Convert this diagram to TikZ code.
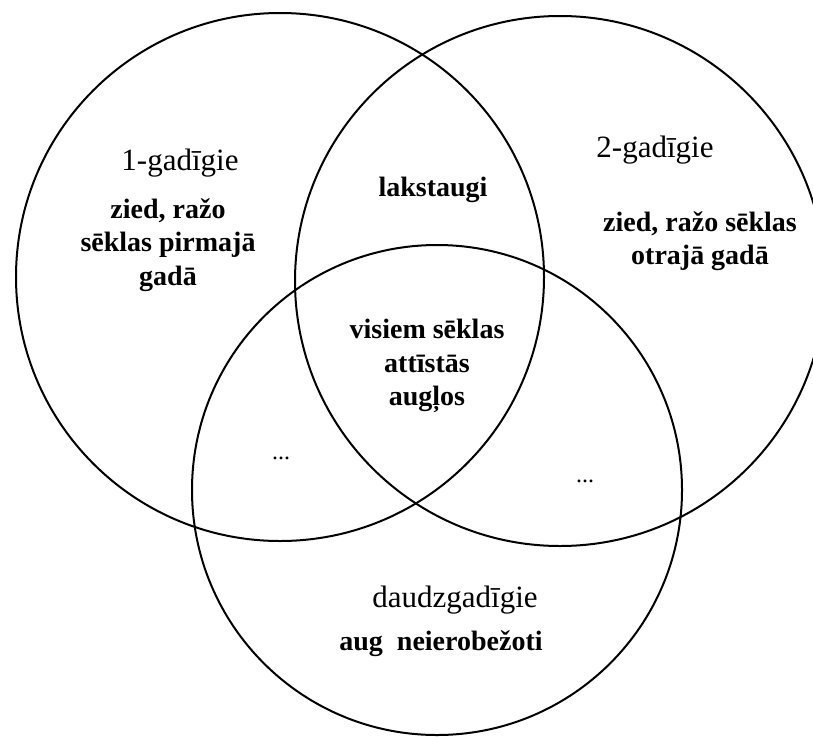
\documentclass[tikz,border=0pt]{standalone}
\usepackage{fontspec}
\setmainfont{Liberation Serif}
\begin{document}
\begin{tikzpicture}[x=1pt,y=-1pt,
  ring/.style={draw=black,line width=2pt,circle,minimum size=#1,inner sep=0pt},
  head/.style={font=\fontsize{31}{35}\selectfont,inner sep=0pt},
  body/.style={font=\bfseries\fontsize{28}{33.5}\selectfont,align=center,inner sep=0pt},
  dots/.style={font=\fontsize{24}{28}\selectfont,inner sep=0pt}]
\useasboundingbox (0,0) rectangle (813,736);
\begin{scope}
\clip (0,0) rectangle (813,736);
\node[ring=528pt] (c1) at (280,277) {};
\node[ring=530pt] (c2) at (560,281) {};
\node[ring=490pt] (c3) at (437,490) {};
\end{scope}
\node[head] (t1) at (180,163) {1-gadīgie};
\node[body] (b1) at (168,245) {zied, ražo\\sēklas pirmajā\\gadā};
\node[body] (lk) at (433,190) {lakstaugi};
\node[head] (t2) at (655,150) {2-gadīgie};
\node[body] (b2) at (700,241) {zied, ražo sēklas\\otrajā gadā};
\node[body] (cen) at (427,366) {visiem sēklas\\attīstās\\augļos};
\node[dots] (d1) at (281,458) {...};
\node[dots] (d2) at (585,481) {...};
\node[head] (t3) at (455,600) {daudzgadīgie};
\node[body] (b3) at (441,644) {aug\ \ neierobežoti};
\end{tikzpicture}
\end{document}
